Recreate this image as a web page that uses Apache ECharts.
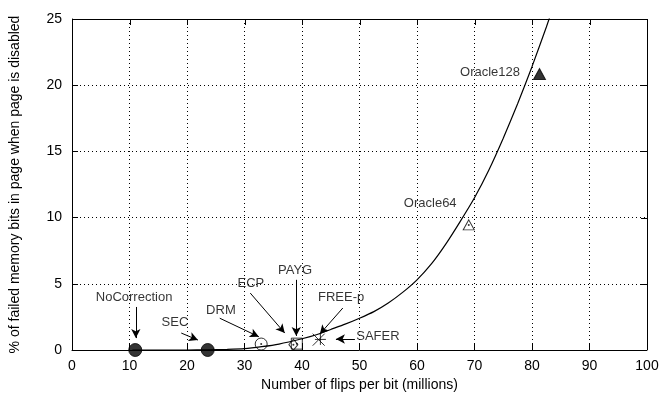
<!DOCTYPE html>
<html><head><meta charset="utf-8">
<script src="https://cdn.jsdelivr.net/npm/echarts@6/dist/echarts.min.js"></script>
<style>html,body{margin:0;padding:0;background:#fff;overflow:hidden}#c{width:663px;height:402px}</style>
</head><body><div id="c"></div>
<script>
// Fitted curve
const curveX = [10.5, 20, 23.5, 27, 30, 33, 36, 40, 42.5, 45, 47.5, 50, 52.5, 55, 57.5, 60, 62.5, 65, 67.5, 70, 72.5, 75, 77.5, 80, 82.5, 85];
const curveY = [0, 0, 0.02, 0.05, 0.1, 0.25, 0.45, 0.85, 1.15, 1.55, 1.95, 2.4, 2.9, 3.55, 4.35, 5.3, 6.5, 8.0, 9.7, 11.5, 13.6, 16.0, 18.6, 21.4, 24.4, 27.6];

// Schemes
const schemeNames = ['NoCorrection', 'SEC', 'DRM', 'ECP', 'PAYG', 'FREE-p', 'SAFER', 'Oracle64', 'Oracle128'];
const schemeX = [11.0, 23.6, 32.9, 38.5, 39.1, 42.9, 43.2, 69.0, 81.3];
const schemeY = [0, 0, 0.45, 0.4, 0.48, 0.78, 0.8, 9.45, 20.85];

// Annotation labels and arrows (data coords)
const labelText = ['NoCorrection', 'SEC', 'DRM', 'ECP', 'PAYG', 'FREE-p', 'SAFER', 'Oracle64', 'Oracle128'];
const labelX = [10.8, 17.9, 25.9, 31.1, 38.8, 46.8, 53.2, 62.3, 72.7];
const labelY = [4.0, 2.1, 3.0, 5.06, 6.04, 4.0, 1.0, 11.1, 21.0];
const arrowFromX = [11.1, 19.0, 25.7, 31.0, 39.0, 47.1, 49.2];
const arrowFromY = [3.25, 1.28, 2.4, 4.3, 5.3, 3.17, 0.83];
const arrowToX = [11.1, 21.9, 32.5, 37.0, 39.0, 43.1, 45.9];
const arrowToY = [0.9, 0.75, 1.0, 1.28, 1.06, 1.2, 0.83];

const xTicks = [0, 10, 20, 30, 40, 50, 60, 70, 80, 90, 100];
const yTicks = [0, 5, 10, 15, 20, 25];
const X_MAX = 100, Y_MAX = 25;

const FONT = 'Liberation Sans';
const chart = echarts.init(document.getElementById('c'), null, {renderer: 'canvas'});

const symbolFor = {
  'NoCorrection': {symbol: 'circle', size: 13, fill: '#000'},
  'SEC': {symbol: 'circle', size: 13, fill: '#000'},
  'DRM': {symbol: 'circle', size: 12, fill: 'none'},
  'ECP': {symbol: 'diamond', size: [9, 11], fill: 'none'},
  'PAYG': {symbol: 'rect', size: 11, fill: 'none'},
  'FREE-p': {symbol: 'path://M0,0L10,10M10,0L0,10', size: 12, fill: 'none'},
  'SAFER': {symbol: 'path://M5,0L5,10M0,5L10,5', size: 11, fill: 'none'},
  'Oracle64': {symbol: 'triangle', size: [11, 10], fill: 'none'},
  'Oracle128': {symbol: 'triangle', size: [12, 11], fill: '#000'}
};

const pointSeries = schemeNames.map((n, i) => {
  const s = symbolFor[n];
  return {
    type: 'scatter', name: n, z: 5,
    symbol: s.symbol, symbolSize: s.size,
    itemStyle: {color: s.fill === 'none' ? 'rgba(255,255,255,0)' : s.fill, borderColor: '#000', borderWidth: 1},
    data: [[schemeX[i], schemeY[i]]]
  };
});

// center dots for open symbols
const dotIdx = [2, 3, 4, 7];
const dotSeries = {
  type: 'scatter', z: 6, symbol: 'circle', symbolSize: 2,
  itemStyle: {color: '#000'},
  data: dotIdx.map(i => [schemeX[i], schemeY[i]])
};

const labelSeries = {
  type: 'scatter', z: 7, symbolSize: 0, clip: false,
  data: labelText.map((t, i) => ({value: [labelX[i], labelY[i]], name: t})),
  label: {show: true, position: 'inside', formatter: p => p.name, color: '#000',
          fontFamily: FONT, fontSize: 13},
  markLine: {
    silent: true, animation: false,
    symbol: ['none', 'arrow'], symbolSize: [7, 9],
    label: {show: false},
    lineStyle: {color: '#000', width: 1, type: 'solid'},
    data: arrowFromX.map((x, i) => [
      {coord: [x, arrowFromY[i]]},
      {coord: [arrowToX[i], arrowToY[i]]}
    ])
  }
};

const axisCommon = {
  min: 0,
  axisLine: {show: true, onZero: false, lineStyle: {color: '#000', width: 1}},
  axisTick: {show: true, inside: true, length: 6, lineStyle: {color: '#000'}},
};

chart.setOption({
  animation: false,
  backgroundColor: '#fff',
  grid: {left: 72, right: 16, top: 19, bottom: 52, containLabel: false},
  xAxis: Object.assign({}, axisCommon, {
    type: 'value', position: 'bottom', max: X_MAX, interval: 10,
    name: 'Number of flips per bit (millions)', nameLocation: 'middle', nameGap: 25,
    nameTextStyle: {fontFamily: FONT, fontSize: 14, color: '#000'},
    axisLabel: {fontFamily: FONT, fontSize: 14, color: '#000', margin: 9,
                formatter: v => xTicks.indexOf(v) >= 0 ? String(v) : ''},
    splitLine: {show: true, lineStyle: {type: [1, 3], color: '#000', width: 1}}
  }),
  yAxis: Object.assign({}, axisCommon, {
    type: 'value', position: 'left', max: Y_MAX, interval: 5,
    name: '% of failed memory bits in page when page is disabled', nameLocation: 'middle', nameGap: 50,
    nameTextStyle: {fontFamily: FONT, fontSize: 14, color: '#000'},
    axisLabel: {fontFamily: FONT, fontSize: 14, color: '#000', margin: 10,
                formatter: v => yTicks.indexOf(v) >= 0 ? String(v) : ''},
    splitLine: {show: true, lineStyle: {type: [1, 3], color: '#000', width: 1}}
  }),
  series: [
    {
      type: 'line', z: 3, smooth: 0.2, showSymbol: false, symbol: 'none', clip: true,
      lineStyle: {color: '#000', width: 1.2},
      data: curveX.map((x, i) => [x, curveY[i]])
    },
    ...pointSeries, dotSeries, labelSeries
  ]
});

// Top and right frame with mirrored inward ticks, positioned through the chart's own scales
function drawFrame() {
  const toPx = v => chart.convertToPixel({gridIndex: 0}, v);
  const tl = toPx([0, Y_MAX]), tr = toPx([X_MAX, Y_MAX]), br = toPx([X_MAX, 0]);
  const r = v => Math.round(v) + 0.5;
  const els = [{
    type: 'polyline', z: 100, silent: true,
    shape: {points: [[tl[0], r(tl[1])], [r(tr[0]), r(tr[1])], [r(br[0]), br[1]]]},
    style: {stroke: '#000', lineWidth: 1, fill: null}
  }];
  xTicks.forEach(x => {
    const p = toPx([x, Y_MAX]);
    els.push({type: 'line', z: 100, silent: true,
      shape: {x1: r(p[0]), y1: p[1], x2: r(p[0]), y2: p[1] + 6},
      style: {stroke: '#000', lineWidth: 1}});
  });
  yTicks.forEach(y => {
    const p = toPx([X_MAX, y]);
    els.push({type: 'line', z: 100, silent: true,
      shape: {x1: p[0], y1: r(p[1]), x2: p[0] - 6, y2: r(p[1])},
      style: {stroke: '#000', lineWidth: 1}});
  });
  chart.setOption({graphic: {elements: els}});
}
drawFrame();
</script></body></html>
